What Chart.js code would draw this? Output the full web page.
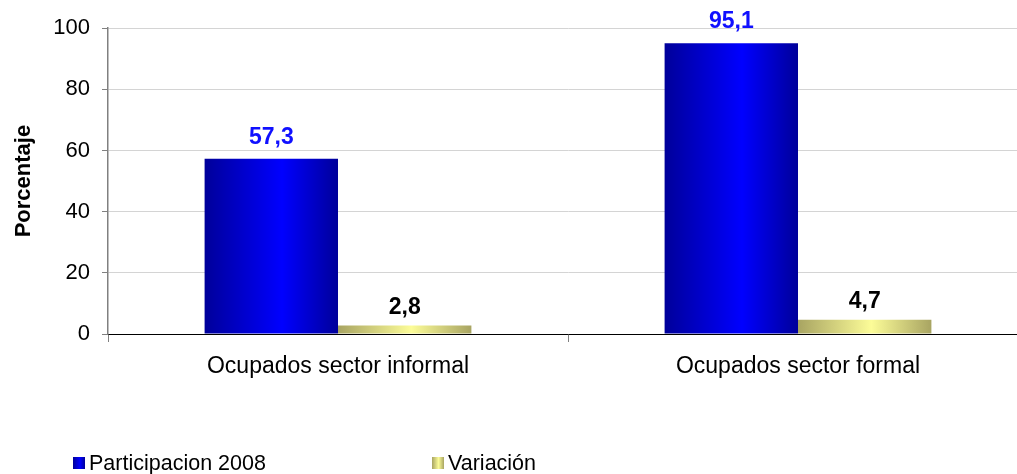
<!DOCTYPE html>
<html>
<head>
<meta charset="utf-8">
<script src="https://cdn.jsdelivr.net/npm/chart.js@4/dist/chart.umd.min.js"></script>
<style>
    html, body { margin: 0; padding: 0; background: #fff; overflow: hidden; }
    #wrap { width: 1017px; height: 474px; overflow: hidden; position: relative; }
    #box { width: 1040px; height: 471px; position: absolute; left: 0; top: 3px; }
</style>
</head>
<body>
<div id="wrap"><div id="box"><canvas id="chart"></canvas></div></div>
<script>
const categories = ['Ocupados sector informal', 'Ocupados sector formal'];
const participacion = [57.3, 95.1];
const variacion = [2.8, 4.7];
const seriesNames = ['Participacion 2008', 'Variación'];
const yTicks = [0, 20, 40, 60, 80, 100];

const FONT = "'Liberation Sans', Arial, sans-serif";
const BAR_PCT = 0.58;

// horizontal shading across each bar, like the cylinder look of the original
function barGradient(ctx, stops) {
    const chart = ctx.chart;
    if (!chart.chartArea || ctx.dataIndex === undefined) return stops[1][1];
    const xs = chart.scales.x;
    const catW = (chart.chartArea.right - chart.chartArea.left) / categories.length;
    const barW = catW * BAR_PCT / 2;
    const center = xs.getPixelForValue(ctx.dataIndex);
    const left = ctx.datasetIndex === 0 ? center - barW : center;
    const g = chart.ctx.createLinearGradient(left, 0, left + barW, 0);
    stops.forEach(s => g.addColorStop(s[0], s[1]));
    return g;
}

const blueStops = [[0, '#00009a'], [0.58, '#0000ff'], [1, '#00009a']];
const oliveStops = [[0, '#a8a462'], [0.55, '#fcfc98'], [1, '#a8a462']];

const valueLabels = {
    id: 'valueLabels',
    afterDatasetsDraw(chart) {
        const ctx = chart.ctx;
        ctx.save();
        ctx.font = 'bold 23px ' + FONT;
        ctx.textAlign = 'center';
        ctx.textBaseline = 'bottom';
        chart.data.datasets.forEach((ds, i) => {
            ctx.fillStyle = i === 0 ? '#1010ff' : '#000000';
            chart.getDatasetMeta(i).data.forEach((bar, j) => {
                const txt = ds.data[j].toFixed(1).replace('.', ',');
                ctx.fillText(txt, bar.x, bar.y - (i === 0 ? 10 : 6));
            });
        });
        ctx.restore();
    }
};

const bottomLegend = {
    id: 'bottomLegend',
    afterDraw(chart) {
        const ctx = chart.ctx;
        const xs = [73, 432];
        const swatch = [blueStops, oliveStops];
        ctx.save();
        ctx.font = '21.5px ' + FONT;
        ctx.textBaseline = 'middle';
        seriesNames.forEach((name, i) => {
            const x = xs[i];
            const g = ctx.createLinearGradient(x, 0, x + 12, 0);
            swatch[i].forEach(s => g.addColorStop(s[0], s[1]));
            ctx.fillStyle = g;
            ctx.fillRect(x, 454, 12, 12);
            ctx.fillStyle = '#000';
            ctx.fillText(name, x + 16, 461);
        });
        ctx.restore();
    }
};

new Chart(document.getElementById('chart'), {
    type: 'bar',
    data: {
        labels: categories,
        datasets: [
            {
                label: seriesNames[0],
                data: participacion,
                backgroundColor: c => barGradient(c, blueStops)
            },
            {
                label: seriesNames[1],
                data: variacion,
                backgroundColor: c => barGradient(c, oliveStops)
            }
        ]
    },
    options: {
        responsive: true,
        maintainAspectRatio: false,
        animation: false,
        categoryPercentage: BAR_PCT,
        barPercentage: 1,
        layout: { padding: { top: 22, right: 12, bottom: 0, left: 0 } },
        plugins: {
            legend: { display: false },
            tooltip: { enabled: false }
        },
        scales: {
            x: {
                grid: {
                    display: true,
                    offset: true,
                    drawOnChartArea: false,
                    tickLength: 8,
                    tickColor: '#808080'
                },
                border: { color: '#000', width: 1 },
                ticks: {
                    color: '#000',
                    font: { family: FONT, size: 23 },
                    padding: 11
                },
                afterFit: s => { s.height = 140; }
            },
            y: {
                min: 0,
                max: 100,
                afterBuildTicks: s => { s.ticks = yTicks.map(v => ({ value: v })); },
                grid: {
                    color: '#d4d4d4',
                    tickColor: '#808080',
                    tickLength: 6
                },
                border: { color: '#808080', width: 1.5 },
                ticks: {
                    color: '#000',
                    font: { family: FONT, size: 22 },
                    padding: 12
                },
                title: {
                    display: true,
                    text: 'Porcentaje',
                    color: '#000',
                    font: { family: FONT, size: 22, weight: 'bold' },
                    padding: { top: 11, bottom: 0 }
                },
                afterFit: s => { s.width = 108; }
            }
        }
    },
    plugins: [valueLabels, bottomLegend]
});
</script>
</body>
</html>
